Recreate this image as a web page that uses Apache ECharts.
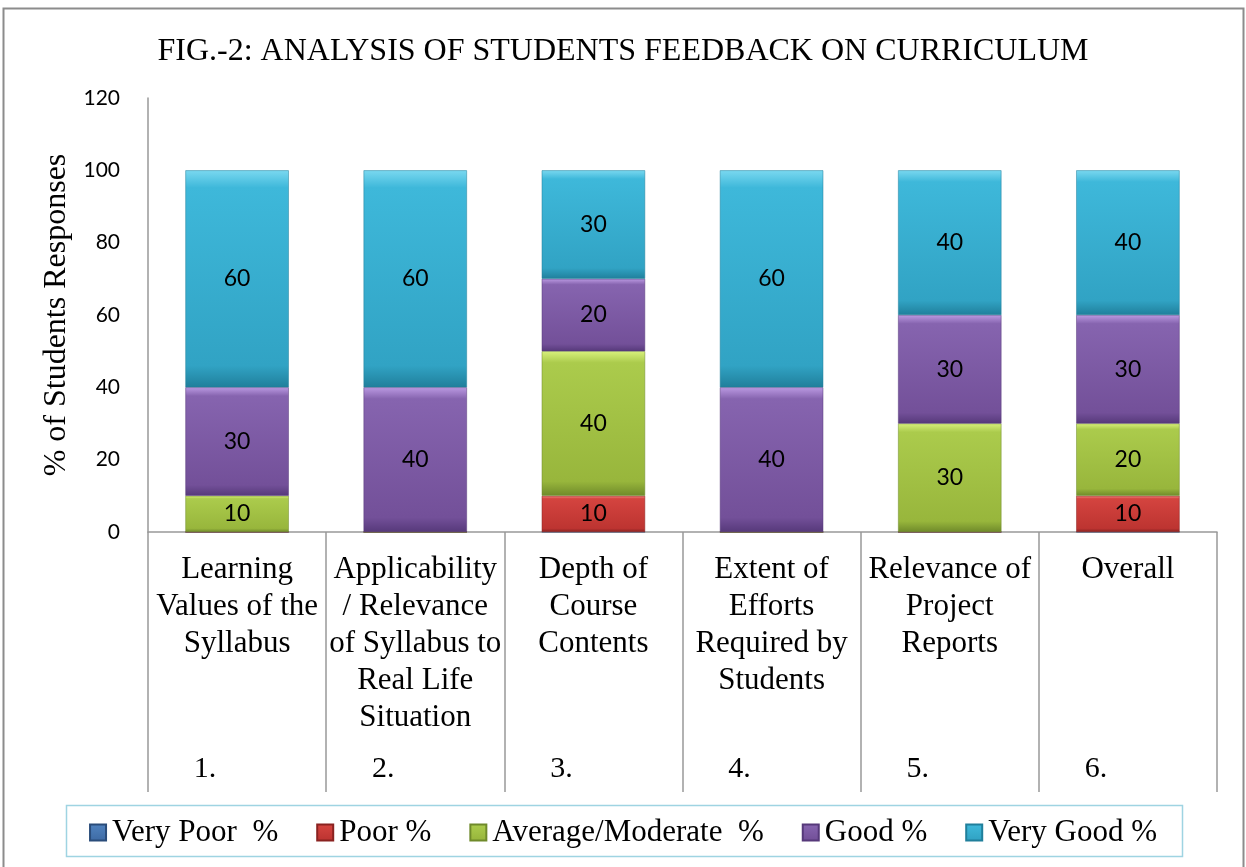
<!DOCTYPE html>
<html>
<head>
<meta charset="utf-8">
<script src="https://cdn.jsdelivr.net/npm/echarts@6/dist/echarts.min.js"></script>
<style>
html,body{margin:0;padding:0;background:#fff;}
#chart{width:1246px;height:867px;}
</style>
</head>
<body>
<div id="chart"></div>
<script>
const categories = [
  'Learning\nValues of the\nSyllabus',
  'Applicability\n/ Relevance\nof Syllabus to\nReal Life\nSituation',
  'Depth of\nCourse\nContents',
  'Extent of\nEfforts\nRequired by\nStudents',
  'Relevance of\nProject\nReports',
  'Overall'
];
const numbers = ['1.', '2.', '3.', '4.', '5.', '6.'];
const seriesNames = ['Very Poor  %', 'Poor %', 'Average/Moderate  %', 'Good %', 'Very Good %'];
const veryPoor = [0, 0, 0, 0, 0, 0];
const poor = [0, 0, 10, 0, 0, 10];
const average = [10, 0, 40, 0, 30, 20];
const good = [30, 40, 20, 40, 30, 30];
const veryGood = [60, 60, 30, 60, 40, 40];
const yTicks = [0, 20, 40, 60, 80, 100, 120];

const palettes = [
  ['#8fb4e6', '#4f81bd', '#3f6ca6', '#2a4c7a'],
  ['#f28a86', '#d4443f', '#bd3431', '#8a2220'],
  ['#d8f07c', '#abcb4c', '#98b63c', '#6f8a2a'],
  ['#bb9ae2', '#8664af', '#735099', '#56397a'],
  ['#7ad8f0', '#3eb8da', '#31a3c4', '#207f9b']
];
function grad(p) {
  return new echarts.graphic.LinearGradient(0, 0, 0, 1, [
    {offset: 0, color: p[0]},
    {offset: 0.08, color: p[1]},
    {offset: 0.9, color: p[2]},
    {offset: 1, color: p[3]}
  ]);
}
const dataSets = [veryPoor, poor, average, good, veryGood];
const series = dataSets.map((d, i) => ({
  name: seriesNames[i],
  type: 'bar',
  stack: 'total',
  data: d,
  barWidth: '58%',
  xAxisIndex: 0,
  itemStyle: {color: grad(palettes[i]), borderColor: palettes[i][3], borderWidth: 0.5},
  label: {
    show: true,
    position: 'inside',
    color: '#000',
    fontFamily: 'Lato',
    fontSize: 23,
    formatter: p => (p.value ? String(p.value) : '')
  }
}));

const chart = echarts.init(document.getElementById('chart'), null, {renderer: 'canvas'});
chart.setOption({
  animation: false,
  title: {
    text: 'FIG.-2: ANALYSIS OF STUDENTS FEEDBACK ON CURRICULUM',
    left: 'center',
    top: 31,
    textStyle: {fontFamily: 'Liberation Serif', fontWeight: 'normal', fontSize: 32, color: '#000'}
  },
  legend: {
    top: 812,
    left: 'center',
    itemWidth: 16,
    itemHeight: 16,
    itemGap: 38,
    icon: 'rect',
    textStyle: {fontFamily: 'Liberation Serif', fontSize: 31, color: '#000', padding: [0, 0, 0, 1]},
    data: seriesNames
  },
  grid: {left: 148, right: 29, top: 98, bottom: 335, containLabel: false},
  xAxis: [{
    type: 'category',
    data: categories,
    axisLine: {lineStyle: {color: '#999', width: 1.5}},
    axisTick: {show: true, length: 260, lineStyle: {color: '#999', width: 1.5}},
    axisLabel: {
      interval: 0,
      margin: 19,
      fontFamily: 'Liberation Serif',
      fontSize: 31,
      lineHeight: 37,
      color: '#000',
      align: 'center'
    }
  }, {
    type: 'category',
    data: numbers,
    position: 'bottom',
    axisLine: {show: false},
    axisTick: {show: false},
    axisLabel: {
      interval: 0,
      margin: 222,
      fontFamily: 'Liberation Serif',
      fontSize: 30,
      color: '#000',
      padding: [0, 64, 0, 0]
    }
  }],
  yAxis: {
    type: 'value',
    min: yTicks[0],
    max: yTicks[yTicks.length - 1],
    interval: 20,
    name: '% of Students Responses',
    nameLocation: 'middle',
    nameGap: 69,
    nameTextStyle: {fontFamily: 'Liberation Serif', fontSize: 32, color: '#000'},
    axisLine: {show: true, lineStyle: {color: '#999', width: 1.5}},
    axisTick: {show: false},
    splitLine: {show: false},
    axisLabel: {margin: 28, fontFamily: 'Lato', fontSize: 21, color: '#000'}
  },
  graphic: [
    {type: 'rect', shape: {x: 3.5, y: 8.5, width: 1240, height: 880}, style: {fill: 'none', stroke: '#8c8c8c', lineWidth: 2}, silent: true, z: -1},
    {type: 'rect', shape: {x: 66.5, y: 805.5, width: 1116, height: 51}, style: {fill: 'none', stroke: '#9fd4e2', lineWidth: 1.5}, silent: true, z: -1}
  ],
  series: series
});
</script>
</body>
</html>
